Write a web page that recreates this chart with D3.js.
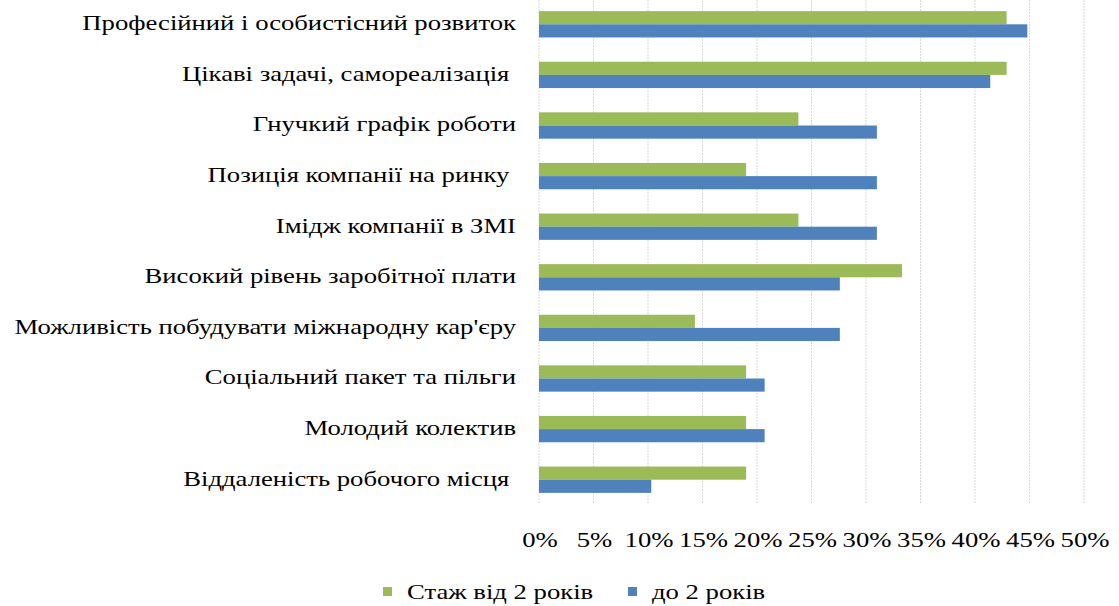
<!DOCTYPE html>
<html><head><meta charset="utf-8">
<script src="https://cdn.jsdelivr.net/npm/d3@7/dist/d3.min.js"></script>
<style>
body{margin:0;background:#fff;}
text{font-family:"Liberation Serif","Times New Roman",serif;fill:#000;}
</style></head>
<body><svg id="c" width="1119" height="606"></svg>
<script>
const categories = [
  "Професійний і особистісний розвиток",
  "Цікаві задачі, самореалізація ",
  "Гнучкий графік роботи",
  "Позиція компанії на ринку ",
  "Імідж компанії в ЗМІ",
  "Високий рівень заробітної плати",
  "Можливість побудувати міжнародну кар'єру",
  "Соціальний пакет та пільги",
  "Молодий колектив",
  "Віддаленість робочого місця "
];
const seriesNames = ["Стаж від 2 років", "до 2 років"];
const greenValues = [42.9, 42.9, 23.8, 19.0, 23.8, 33.3, 14.3, 19.0, 19.0, 19.0];
const blueValues  = [44.8, 41.4, 31.0, 31.0, 31.0, 27.6, 27.6, 20.7, 20.7, 10.3];
const tickValues = [0,5,10,15,20,25,30,35,40,45,50];
const colors = ["#9bbb59", "#4f81bd"];

const SX = 1.27; // horizontal text stretch
const svg = d3.select("#c");
const x = d3.scaleLinear().domain([0,50]).range([539, 1084]);
const y = d3.scaleBand().domain(categories).range([-1, 505]).paddingInner(0.48).paddingOuter(0.24);
const ySub = d3.scaleBand().domain([0,1]).range([0, y.bandwidth()]);

// gridlines
svg.append("g").selectAll("line").data(tickValues).join("line")
  .attr("x1", d=>x(d)).attr("x2", d=>x(d)).attr("y1", 0).attr("y2", 504)
  .attr("stroke", "#d9d9d9").attr("stroke-width", 1).attr("stroke-dasharray", "2,1");

const data = [greenValues, blueValues];
data.forEach((vals, s) => {
  svg.append("g").selectAll("rect").data(vals).join("rect")
    .attr("x", x(0))
    .attr("y", (d,i)=>y(categories[i]) + ySub(s))
    .attr("width", d=>x(d)-x(0))
    .attr("height", ySub.bandwidth())
    .attr("fill", colors[s]);
});

// category labels
svg.append("g").selectAll("text").data(categories).join("text")
  .attr("transform", d=>`translate(516,${y(d)+y.bandwidth()/2-1}) scale(${SX},1)`)
  .attr("text-anchor","end").attr("dominant-baseline","central")
  .style("white-space","pre").attr("xml:space","preserve")
  .attr("font-size", 21).text(d=>d);

// x axis tick labels
svg.append("g").selectAll("text").data(tickValues).join("text")
  .attr("transform", d=>`translate(${x(d)+1},540) scale(${SX},1)`)
  .attr("text-anchor","middle").attr("dominant-baseline","central")
  .attr("font-size", 21).text(d=>d+"%");

// legend
const legend = [{x:383, name:seriesNames[0], c:colors[0]},{x:628, name:seriesNames[1], c:colors[1]}];
const lg = svg.append("g").selectAll("g").data(legend).join("g");
lg.append("rect").attr("x", d=>d.x).attr("y", 587).attr("width", 9).attr("height", 9).attr("fill", d=>d.c);
lg.append("text").attr("transform", d=>`translate(${d.x+24},592) scale(${SX},1)`)
  .attr("dominant-baseline","central")
  .attr("font-size", 21).text(d=>d.name);
</script></body></html>
